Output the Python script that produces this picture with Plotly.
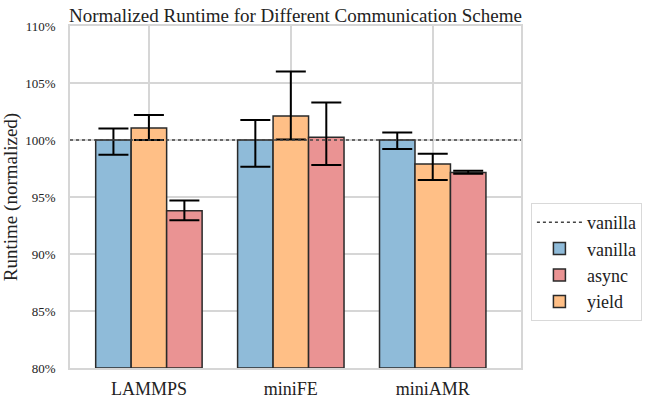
import plotly.graph_objects as go

categories = ["LAMMPS", "miniFE", "miniAMR"]
vanilla = [100.0, 100.0, 100.0]
vanilla_hi = [101.0, 101.75, 100.65]
vanilla_lo = [98.7, 97.65, 99.2]
yield_ = [101.05, 102.1, 97.9]
yield_hi = [102.2, 106.0, 98.8]
yield_lo = [100.0, 100.05, 96.5]
async_ = [93.8, 100.25, 97.15]
async_hi = [94.7, 103.3, 97.3]
async_lo = [92.95, 97.8, 97.05]
baseline = 100.0
yticks = [80, 85, 90, 95, 100, 105, 110]

FONT = "Liberation Serif"

def err(vals, hi, lo):
    return dict(type="data", symmetric=False,
                array=[h - v for h, v in zip(hi, vals)],
                arrayminus=[v - l for l, v in zip(lo, vals)],
                color="black", thickness=2, width=15)

fig = go.Figure()
series = [
    ("vanilla", vanilla, vanilla_hi, vanilla_lo, "rgb(143,187,217)", 2),
    ("yield", yield_, yield_hi, yield_lo, "rgb(255,191,134)", 4),
    ("async", async_, async_hi, async_lo, "rgb(234,147,147)", 3),
]
for name, vals, hi, lo, color, rank in series:
    fig.add_trace(go.Bar(
        x=categories, y=[v - 80 for v in vals], base=80, name=name,
        marker=dict(color=color, line=dict(color="#2a2a2a", width=1.5)),
        error_y=err(vals, hi, lo), legendrank=rank,
    ))

fig.add_shape(type="line", xref="paper", x0=0, x1=1, yref="y", y0=baseline, y1=baseline,
              line=dict(color="#444444", width=1.5, dash="dot"), layer="above",
              showlegend=True, name="vanilla", legendrank=1)

fig.update_layout(
    width=647, height=400,
    margin=dict(l=70, r=126, t=26, b=32, autoexpand=False),
    barmode="group", bargap=0.25, bargroupgap=0,
    plot_bgcolor="white", paper_bgcolor="white",
    font=dict(family=FONT, color="#222222"),
    title=dict(text="Normalized Runtime for Different Communication Scheme",
               x=0.5, xref="paper", xanchor="center", y=0.962, yanchor="middle",
               font=dict(size=19, family=FONT, color="#222222")),
    legend=dict(x=1.022, xanchor="left", y=0.31, yanchor="middle",
                bordercolor="#d9d9d9", borderwidth=1, bgcolor="white",
                font=dict(size=18, family=FONT), traceorder="normal",
                tracegroupgap=2, itemwidth=45),
    showlegend=True,
)
fig.update_xaxes(range=[-0.556, 2.622], showgrid=True, gridcolor="#d6d6d6", gridwidth=1.5,
                 showline=True, linecolor="#d6d6d6", linewidth=1.5, mirror=True,
                 tickfont=dict(size=18, family=FONT), ticks="", ticklabelstandoff=4,
                 automargin=False)
fig.update_yaxes(range=[80, 110], tickvals=yticks, ticktext=[f"{t}%" for t in yticks],
                 showgrid=True, gridcolor="#d6d6d6", gridwidth=1.5,
                 showline=True, linecolor="#d6d6d6", linewidth=1.5, mirror=True,
                 zeroline=False, tickfont=dict(size=13, family=FONT), ticks="",
                 ticklabelstandoff=10, automargin=False,
                 title=dict(text="Runtime (normalized)", font=dict(size=19, family=FONT), standoff=6))

fig.write_html("out.html")
